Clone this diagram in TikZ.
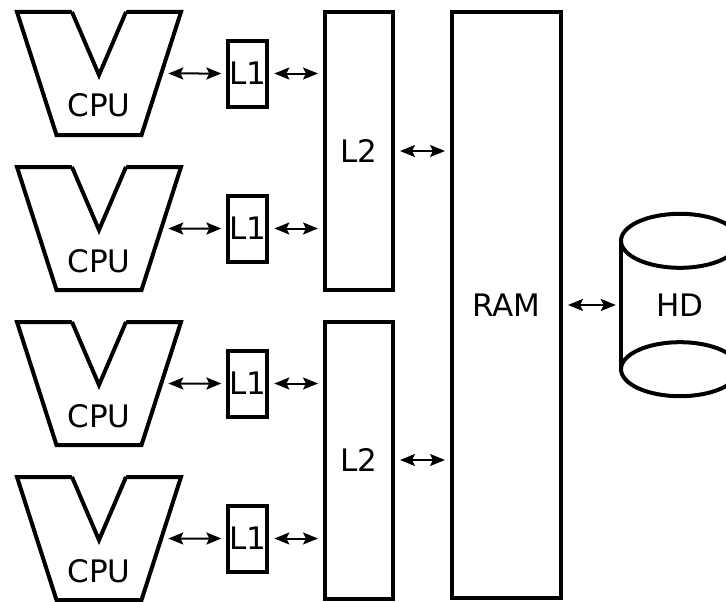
\documentclass[tikz,border=0pt]{standalone}
\usepackage{fontspec}
\setmainfont{DejaVu Sans}
\usetikzlibrary{positioning,calc,arrows.meta}
\usetikzlibrary{shapes.geometric}
\tikzset{ cpu/.style={draw,line width=4pt,trapezium,trapezium angle=71.4,trapezium stretches=true,shape border rotate=180,minimum width=164pt,minimum height=123pt,inner sep=0pt,text height=87pt,text depth=0pt},
  cache/.style={draw,line width=4pt,inner sep=0pt},
  disk/.style={draw,line width=4pt,ellipse,minimum width=118pt,minimum height=54pt,inner sep=0pt,outer sep=0pt},
  link/.style={{Stealth[length=15pt,width=12pt,inset=3pt]}-{Stealth[length=15pt,width=12pt,inset=3pt]},line width=2pt,shorten <=5pt,shorten >=5pt} }
\newcommand{\notch}[1]{\fill[white] ($(#1)+(-28,-65)$) -- ($(#1)+(28,-65)$) -- ($(#1)+(0,0)$) -- cycle;
  \draw[line width=4pt] ($(#1)+(-27,-61.5)$) -- ($(#1)+(0,1.5)$) -- ($(#1)+(27,-61.5)$);}

\begin{document}
\begin{tikzpicture}[x=1pt,y=-1pt,font=\fontsize{31pt}{36pt}\selectfont]
   \useasboundingbox (0,0) rectangle (726,602);
   \clip (0,0) rectangle (726,602);
   \node[cpu] (cpu1) at (99,73.5) {CPU};
   \node[cpu] (cpu2) at (99,228.5) {CPU};
   \node[cpu] (cpu3) at (99,383.5) {CPU};
   \node[cpu] (cpu4) at (99,538.5) {CPU};
   \foreach \i in {1,...,4} {\notch{cpu\i}}
   \node[cache,minimum width=39pt,minimum height=66pt,right=63pt of cpu1] (l1a) {L1};
   \node[cache,minimum width=39pt,minimum height=66pt,right=63pt of cpu2] (l1b) {L1};
   \node[cache,minimum width=39pt,minimum height=66pt,right=63pt of cpu3] (l1c) {L1};
   \node[cache,minimum width=39pt,minimum height=66pt,right=63pt of cpu4] (l1d) {L1};
   \node[cache,minimum width=68pt,minimum height=277pt] (l2a) at (359,151) {L2};
   \node[cache,minimum width=68pt,minimum height=277pt] (l2b) at (359,460) {L2};
   \node[cache,minimum width=109pt,minimum height=586pt] (ram) at (506.5,305) {RAM};
   \node[minimum width=118pt,minimum height=128pt,inner sep=0pt] (hd) at (680,305) {HD};
   \node[disk] (hdtop) at (hd.north) {};
   \node[disk] (hdbot) at (hd.south) {};
   \draw[line width=4pt] (hdtop.west) -- (hdbot.west) (hdtop.east) -- (hdbot.east);
   \foreach \i/\l in {1/l1a,2/l1b,3/l1c,4/l1d} {\draw[link] (cpu\i) -- (\l);}
   \foreach \l/\m in {l1a/l2a,l1b/l2a,l1c/l2b,l1d/l2b} {\draw[link] (\l.east) -- (\l.east -| \m.west);}
   \draw[link] (l2a.east) -- (l2a.east -| ram.west);
   \draw[link] (l2b.east) -- (l2b.east -| ram.west);
   \draw[link] (ram) -- (hd);
\end{tikzpicture}
\end{document}
